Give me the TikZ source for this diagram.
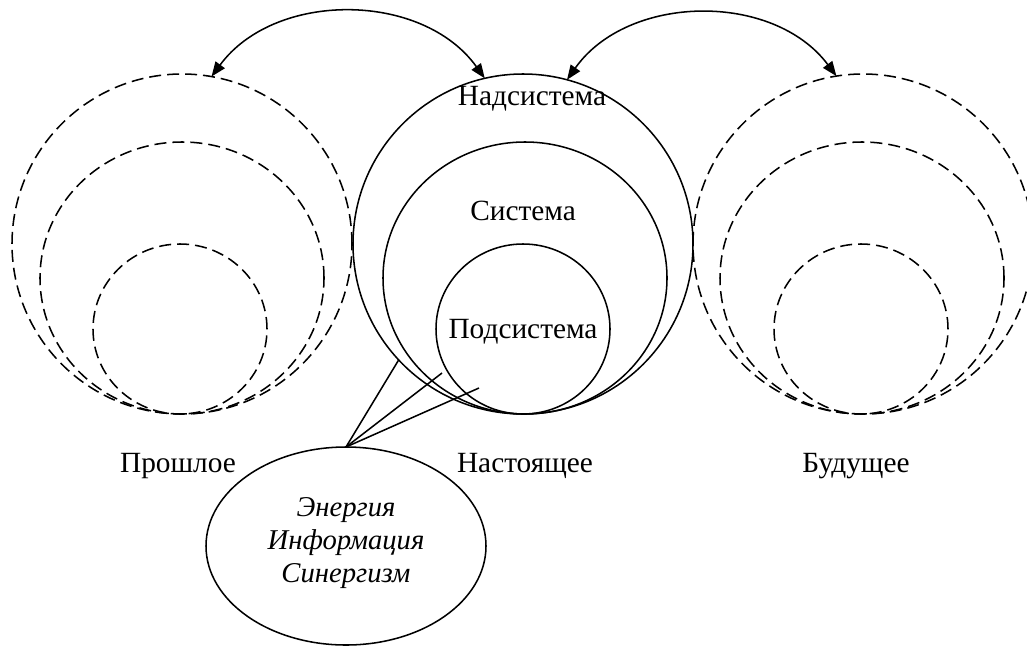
\documentclass[tikz,border=0pt]{standalone}
\usepackage{fontspec}
\setmainfont{Liberation Serif}
\usetikzlibrary{shapes.geometric,arrows.meta}
\begin{document}
\begin{tikzpicture}[x=0.75pt,y=0.75pt,
  ring/.style={ellipse,draw,line width=1.15pt,inner sep=0pt,outer sep=0pt},
  dashring/.style={ring,dash pattern=on 9pt off 4.5pt},
  lbl/.style={anchor=base,inner sep=0pt,font=\fontsize{22}{26}\selectfont},
  swap/.style={line width=1.15pt,{Triangle[length=11pt,width=8.5pt]}-{Triangle[length=11pt,width=8.5pt]}},
  conn/.style={line width=1.15pt}
]
\useasboundingbox (0,0) rectangle (1027,-646);
\clip (0,0) rectangle (1027,-646);
% past
\node[dashring,minimum width=255pt,minimum height=255pt] (L1) at (182,-244) {};
\node[dashring,minimum width=213pt,minimum height=204pt] (L2) at (182,-278) {};
\node[dashring,minimum width=130.5pt,minimum height=127.5pt] (L3) at (180,-329) {};
% present
\node[ring,minimum width=255pt,minimum height=255pt] (M1) at (523,-244) {};
\node[ring,minimum width=213pt,minimum height=204pt] (M2) at (525,-278) {};
\node[ring,minimum width=130.5pt,minimum height=127.5pt] (M3) at (523,-329) {};
% future
\node[dashring,minimum width=255pt,minimum height=255pt] (R1) at (863,-244) {};
\node[dashring,minimum width=213pt,minimum height=204pt] (R2) at (862,-278) {};
\node[dashring,minimum width=130.5pt,minimum height=127.5pt] (R3) at (861,-329) {};
% labels
\node[lbl] (nad) at (532,-105.5) {Надсистема};
\node[lbl] (sys) at (523,-220) {Система};
\node[lbl] (pod) at (523,-338) {Подсистема};
\node[lbl] (past) at (178,-472) {Прошлое};
\node[lbl] (pres) at (525,-472) {Настоящее};
\node[lbl] (fut) at (856,-472) {Будущее};
% arrows
\draw[swap] (L1.80) to[bend left=54] (M1.103);
\draw[swap] (M1.75) to[bend left=54] (R1.99);
% ellipse
\node[ring,minimum width=210pt,minimum height=148.5pt] (E) at (346,-546) {};
\node[align=center,inner sep=0pt,font=\fontsize{21.5}{24.5}\selectfont\itshape] (Etxt) at (346,-543) {Энергия\\Информация\\Синергизм};
\coordinate (p2) at (442,-373);
\coordinate (p3) at (479,-388);
\draw[conn] (E.north) -- (M1.223);
\draw[conn] (E.north) -- (p2);
\draw[conn] (E.north) -- (p3);
\end{tikzpicture}
\end{document}
